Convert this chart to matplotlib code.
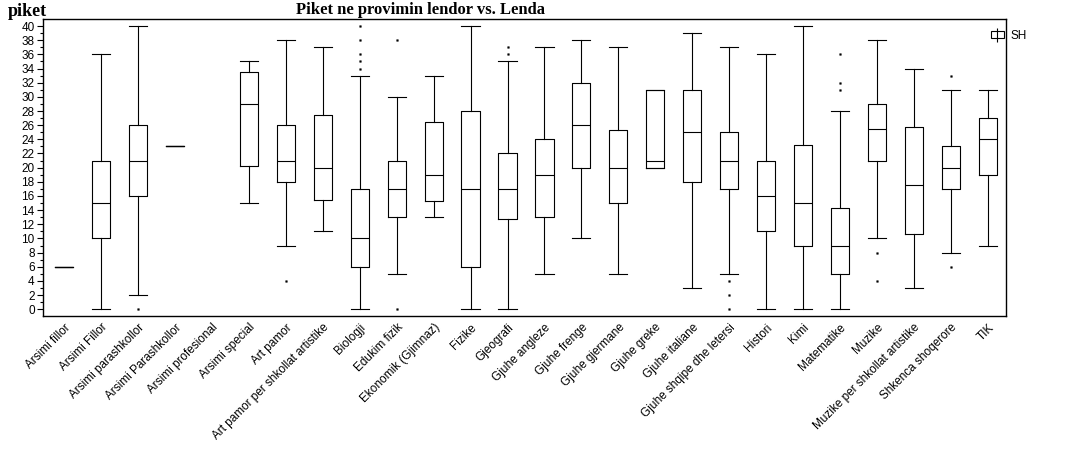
import numpy as np
import matplotlib
matplotlib.use("Agg")
import matplotlib.pyplot as plt
from matplotlib.patches import Patch
from matplotlib.lines import Line2D
from matplotlib.legend_handler import HandlerTuple

plt.rcParams['font.family'] = ['Liberation Sans', 'DejaVu Sans']

lendet = ["Arsimi fillor", "Arsimi Fillor", "Arsimi parashkollor", "Arsimi Parashkollor",
          "Arsimi profesional", "Arsimi special", "Art pamor", "Art pamor per shkollat artistike",
          "Biologji", "Edukim fizik", "Ekonomik (Gjimnaz)", "Fizike", "Gjeografi",
          "Gjuhe angleze", "Gjuhe frenge", "Gjuhe gjermane", "Gjuhe greke", "Gjuhe italiane",
          "Gjuhe shqipe dhe letersi", "Histori", "Kimi", "Matematike", "Muzike",
          "Muzike per shkollat artistike", "Shkenca shoqerore", "TIK"]

# None = no data for that subject
whislo = [6, 0, 2, 23, None, 15, 9, 11, 0, 5, 13, 0, 0, 5, 10, 5, 20, 3, 5, 0, 0, 0, 10, 3, 8, 9]
q1     = [6, 10, 16, 23, None, 20.2, 18, 15.5, 6, 13, 15.3, 6, 12.7, 13, 20, 15, 20, 18, 17, 11, 9, 5, 21, 10.7, 17, 19]
med    = [6, 15, 21, 23, None, 29, 21, 20, 10, 17, 19, 17, 17, 19, 26, 20, 21, 25, 21, 16, 15, 9, 25.5, 17.5, 20, 24]
q3     = [6, 21, 26, 23, None, 33.5, 26, 27.5, 17, 21, 26.5, 28, 22, 24, 32, 25.3, 31, 31, 25, 21, 23.2, 14.3, 29, 25.8, 23, 27]
whishi = [6, 36, 40, 23, None, 35, 38, 37, 33, 30, 33, 40, 35, 37, 38, 37, 31, 39, 37, 36, 40, 28, 38, 34, 31, 31]
fliers = [[], [], [0], [], [], [], [4], [], [34, 35, 36, 38, 40], [0, 38], [], [], [36, 37],
          [], [], [], [], [], [0, 2, 4], [], [], [31, 32, 36], [4, 8], [], [6, 33], []]

stats = []
pos = []
for i in range(len(lendet)):
    if med[i] is None:
        continue
    stats.append(dict(whislo=whislo[i], q1=q1[i], med=med[i], q3=q3[i],
                      whishi=whishi[i], fliers=fliers[i]))
    pos.append(i)

fig = plt.figure(figsize=(10.71, 4.53), dpi=100)
ax = fig.add_axes([43/1071, 1-316/453, (1006-43)/1071, (316-19.3)/453])

lw = 0.8
ax.bxp(stats, positions=pos, widths=0.49, capwidths=0.49,
       boxprops=dict(color='black', linewidth=lw),
       medianprops=dict(color='black', linewidth=lw),
       whiskerprops=dict(color='black', linewidth=lw),
       capprops=dict(color='black', linewidth=lw),
       flierprops=dict(marker='s', markersize=1.2, markerfacecolor='black',
                       markeredgecolor='black', markeredgewidth=0.3, linestyle='none'))

ax.set_xlim(-0.57, 25.49)
ax.set_ylim(-0.95, 40.95)
ax.set_yticks(np.arange(0, 41, 2))
ax.set_yticks(np.arange(1, 41, 2), minor=True)
ax.tick_params(axis='y', which='major', length=4, width=0.8, labelsize=8.5, pad=2)
ax.tick_params(axis='y', which='minor', length=2, width=0.8)
ax.set_xticks(range(len(lendet)))
ax.set_xticklabels(lendet, rotation=45, ha='right', va='top', rotation_mode='anchor', fontsize=8.5)
ax.tick_params(axis='x', length=0, pad=4)
for s in ax.spines.values():
    s.set_linewidth(1.0)

fig.text(420/1071, 1-10/453, "Piket ne provimin lendor vs. Lenda", ha='center', va='center',
         fontsize=12, fontweight='bold', family=['Liberation Serif', 'DejaVu Serif'])
fig.text(8/1071, 1-11/453, "piket", ha='left', va='center',
         fontsize=13, fontweight='bold', family=['Liberation Serif', 'DejaVu Serif'])

h = (Patch(facecolor='white', edgecolor='black', linewidth=0.8),
     Line2D([], [], color='black', marker='|', markersize=10, linestyle='none', markeredgewidth=0.8))
fig.legend([h], ["SH"], handler_map={tuple: HandlerTuple(ndivide=1)},
           loc='upper left', bbox_to_anchor=(980/1071, 1-19/453), frameon=False,
           fontsize=8.5, handlelength=1.1, handleheight=0.5, handletextpad=0.6)

fig.savefig("out.png", dpi=100)
